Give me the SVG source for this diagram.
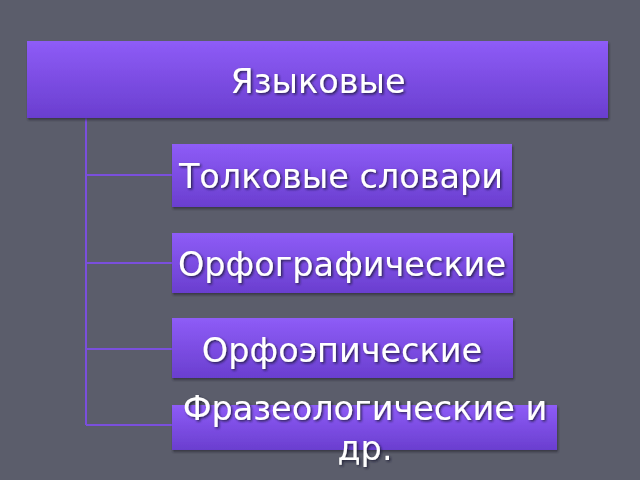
<svg xmlns="http://www.w3.org/2000/svg" width="640" height="480" viewBox="0 0 640 480">
<defs>
<linearGradient id="g" x1="0" y1="0" x2="0" y2="1">
<stop offset="0" stop-color="#8e5cf7"/>
<stop offset="1" stop-color="#6a3ecf"/>
</linearGradient>
<filter id="sh" x="-5%" y="-10%" width="110%" height="130%">
<feDropShadow dx="1" dy="2" stdDeviation="1.2" flood-color="#2a2a35" flood-opacity="0.7"/>
</filter>
<filter id="ts" x="-5%" y="-20%" width="110%" height="150%">
<feDropShadow dx="1.5" dy="1.5" stdDeviation="0.8" flood-color="#1e1a30" flood-opacity="0.8"/>
</filter>
</defs>
<style>
.box{fill:url(#g);filter:url(#sh)}
.t{font-family:"DejaVu Sans",Verdana,sans-serif;font-size:33.5px;fill:#ffffff;text-anchor:middle;filter:url(#ts)}
.c{stroke:#7a4fdc;stroke-width:2;fill:none}
</style>
<rect width="640" height="480" fill="#5b5d6b"/>
<g id="connectors">
<path class="c" d="M86 118 V425 M86 175 H172 M86 263 H172 M86 349 H172 M86 425 H172"/>
</g>
<g id="n0">
<rect class="box" x="27" y="41" width="581" height="77"/>
<text class="t" x="318" y="93">Языковые</text>
</g>
<g id="n1">
<rect class="box" x="172" y="144" width="340" height="63"/>
<text class="t" x="341" y="188">Толковые словари</text>
</g>
<g id="n2">
<rect class="box" x="172" y="233" width="341" height="60"/>
<text class="t" x="342" y="276">Орфографические</text>
</g>
<g id="n3">
<rect class="box" x="172" y="318" width="341" height="60"/>
<text class="t" x="342" y="362">Орфоэпические</text>
</g>
<g id="n4">
<rect class="box" x="172" y="405" width="385" height="45"/>
<text class="t" x="365" y="420">Фразеологические и</text>
<text class="t" x="365" y="460">др.</text>
</g>
</svg>
